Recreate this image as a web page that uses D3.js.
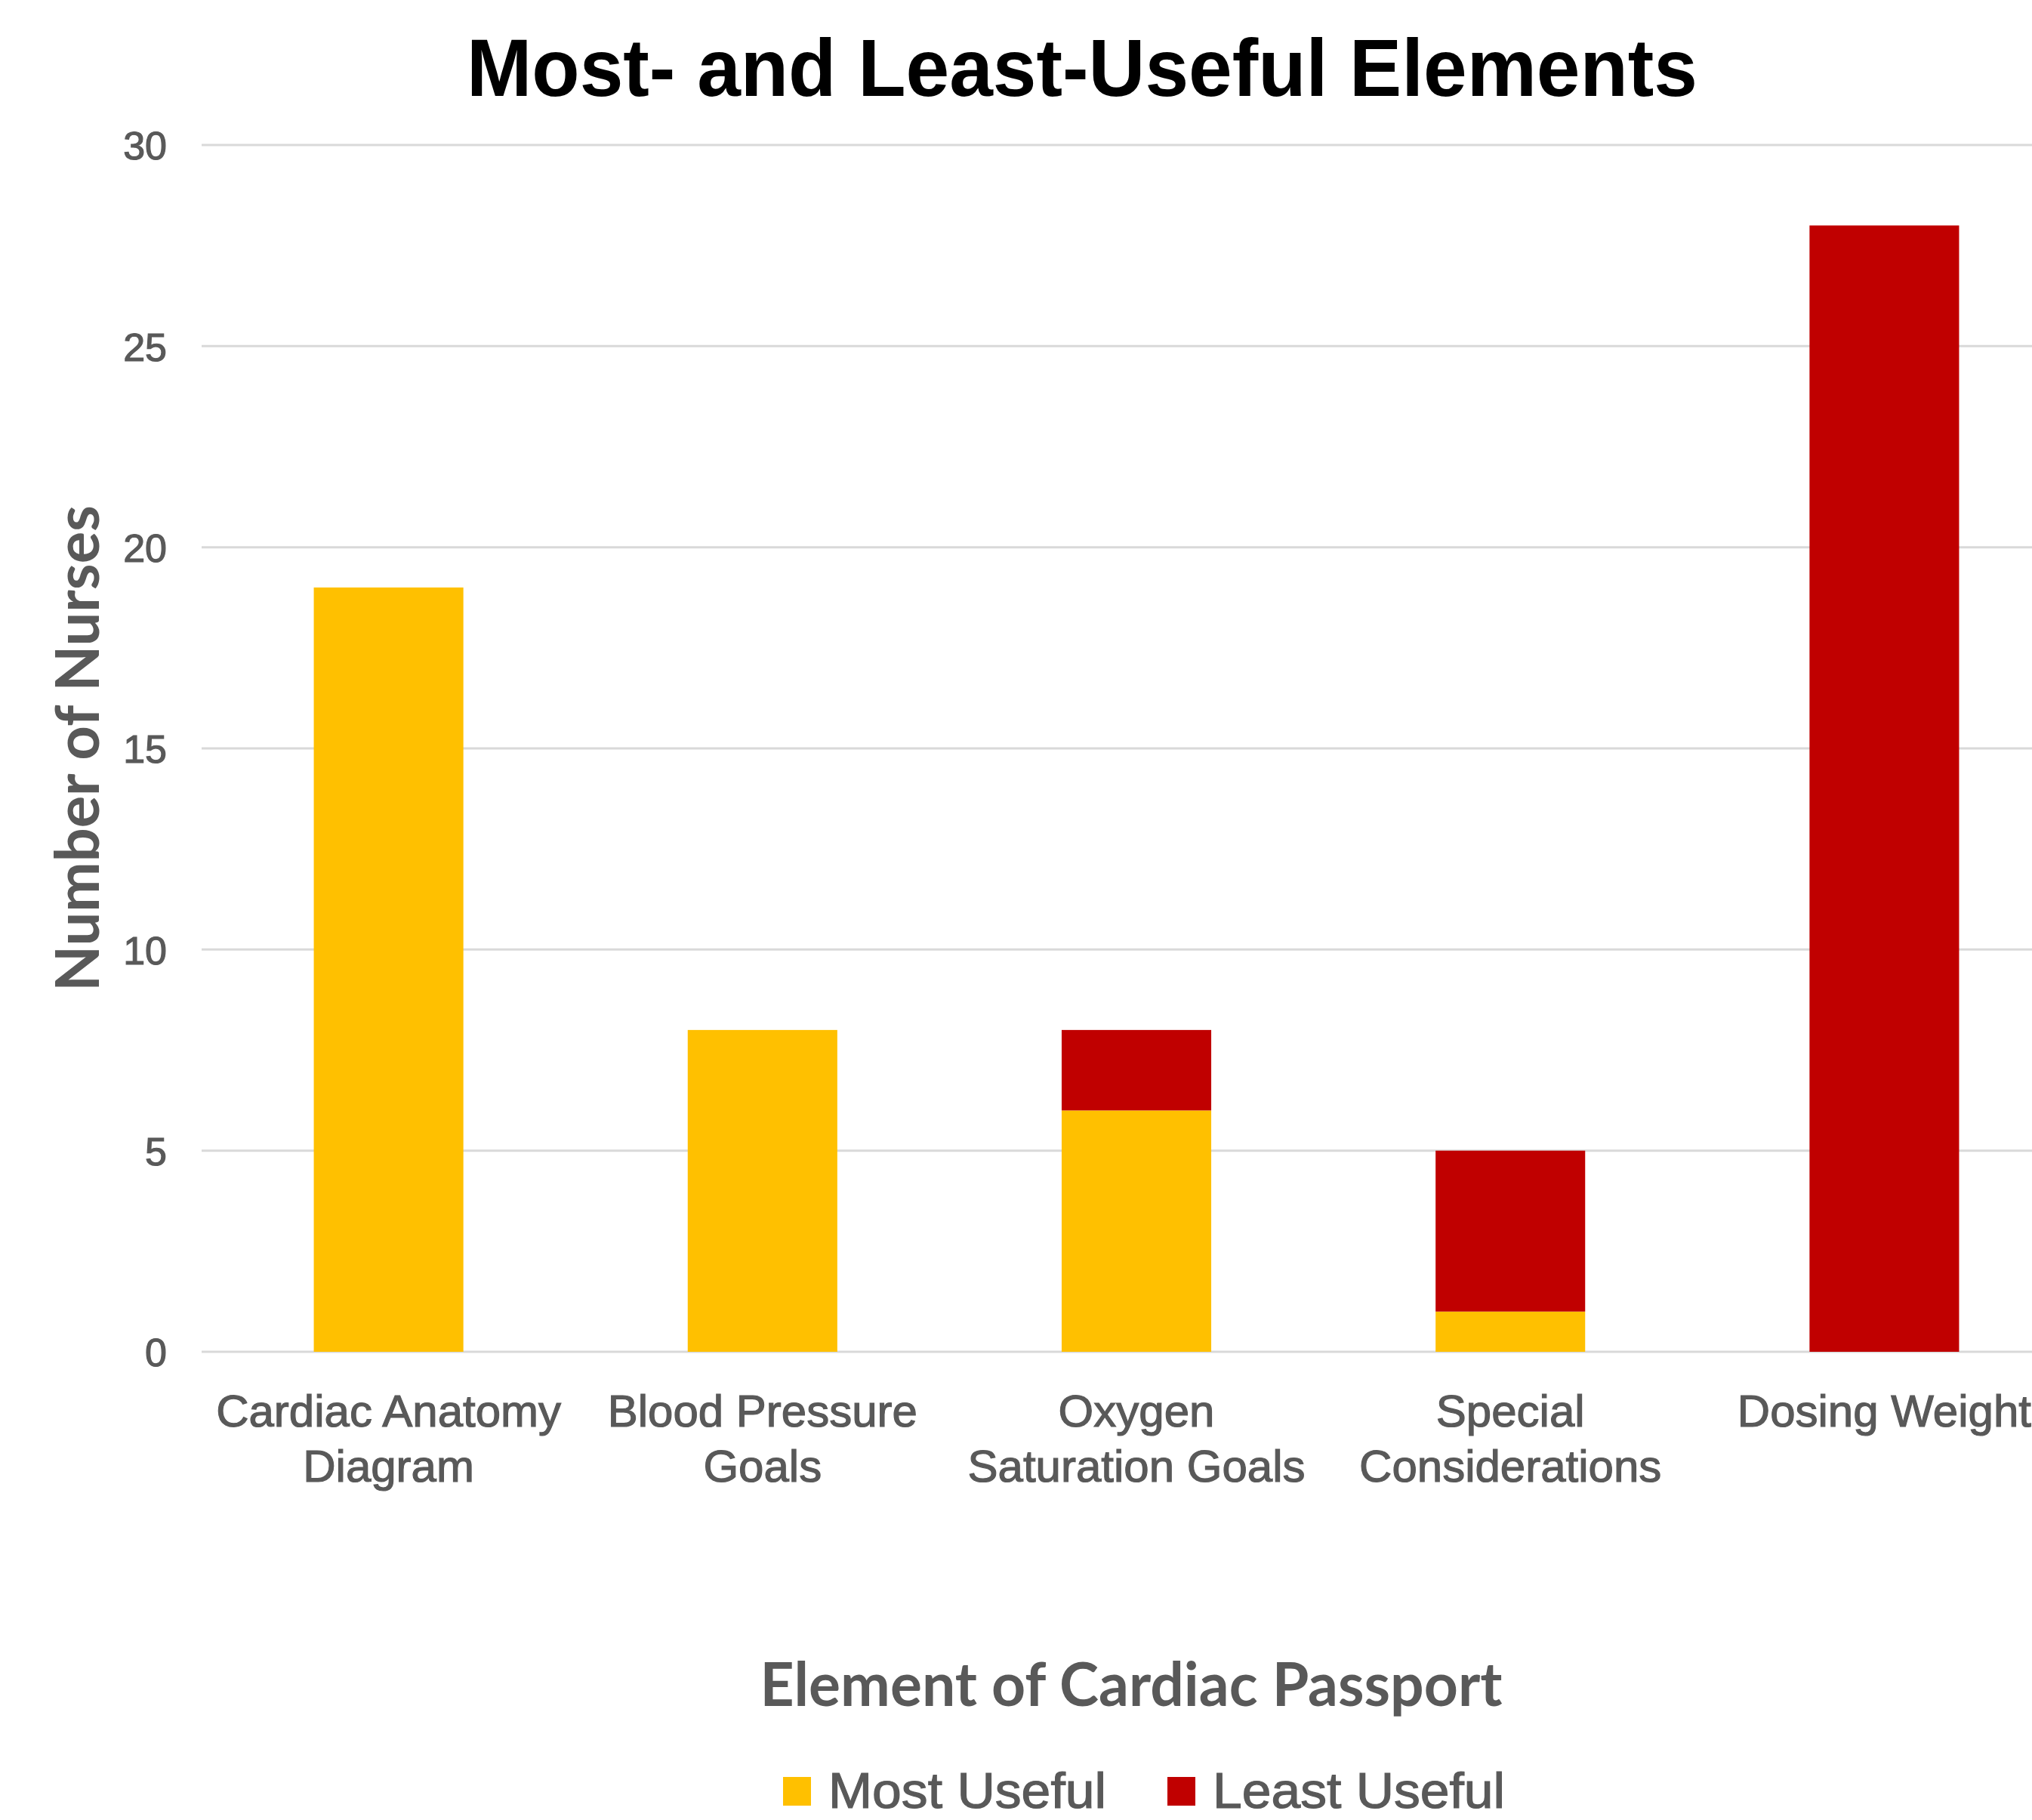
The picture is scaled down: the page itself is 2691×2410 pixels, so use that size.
<!DOCTYPE html>
<html>
<head>
<meta charset="utf-8">
<script src="https://cdn.jsdelivr.net/npm/d3@7"></script>
<style>
  html, body { margin: 0; padding: 0; background: #fff; }
  svg { display: block; }
</style>
</head>
<body>
<svg id="chart" width="2691" height="2410"></svg>
<script>
// ---- Data ----
const categories = ["Cardiac Anatomy Diagram", "Blood Pressure Goals", "Oxygen Saturation Goals", "Special Considerations", "Dosing Weight"];
const categoryLines = [["Cardiac Anatomy", "Diagram"], ["Blood Pressure", "Goals"], ["Oxygen", "Saturation Goals"], ["Special", "Considerations"], ["Dosing Weight"]];
const seriesNames = ["Most Useful", "Least Useful"];
const mostUseful = [19, 8, 6, 1, 0];
const leastUseful = [0, 0, 2, 4, 28];
const yTicks = [0, 5, 10, 15, 20, 25, 30];
const titleText = "Most- and Least-Useful Elements";
const xTitleText = "Element of Cardiac Passport";
const yTitleText = "Number of Nurses";

// ---- Layout / style ----
const colors = { "Most Useful": "#FFC000", "Least Useful": "#C00000" };
const textGray = "#595959";
const gridColor = "#D9D9D9";

const svg = d3.select("#chart");

const x = d3.scaleBand().domain(categories).range([267, 2743]).paddingInner(0.6).paddingOuter(0.3);
const y = d3.scaleLinear().domain([0, 30]).range([1790, 192]);

// gridlines
svg.append("g").selectAll("line").data(yTicks).join("line")
  .attr("x1", 267).attr("x2", 2691)
  .attr("y1", d => y(d)).attr("y2", d => y(d))
  .attr("stroke", gridColor).attr("stroke-width", 3);

// stacked bars
const rows = categories.map((c, i) => ({ cat: c, "Most Useful": mostUseful[i], "Least Useful": leastUseful[i] }));
const stacked = d3.stack().keys(seriesNames)(rows);
svg.append("g").selectAll("g").data(stacked).join("g")
  .attr("fill", d => colors[d.key])
  .selectAll("rect").data(d => d).join("rect")
  .attr("x", d => x(d.data.cat))
  .attr("width", x.bandwidth())
  .attr("y", d => y(d[1]))
  .attr("height", d => y(d[0]) - y(d[1]));

// y axis labels
const yAxis = d3.axisLeft(y).tickValues(yTicks).tickSize(0).tickPadding(0);
const yg = svg.append("g").attr("transform", "translate(221,0)").call(yAxis);
yg.select(".domain").remove();
yg.selectAll("text")
  .attr("font-family", "'Liberation Sans', Arial, sans-serif")
  .attr("font-size", 52).attr("fill", textGray).attr("dy", "0.36em")
  .attr("stroke", textGray).attr("stroke-width", 1.2);

// x category labels
const xg = svg.append("g");
categories.forEach((c, i) => {
  const t = xg.append("text")
    .attr("x", x(c) + x.bandwidth() / 2)
    .attr("y", 1889)
    .attr("text-anchor", "middle")
    .attr("font-family", "'Liberation Sans', Arial, sans-serif")
    .attr("font-size", 60).attr("fill", textGray)
    .attr("stroke", textGray).attr("stroke-width", 1.2);
  categoryLines[i].forEach((ln, j) => {
    t.append("tspan").attr("x", x(c) + x.bandwidth() / 2).attr("dy", j === 0 ? 0 : 73).text(ln);
  });
});

// title
svg.append("text")
  .attr("x", 1433).attr("y", 127)
  .attr("text-anchor", "middle")
  .attr("font-family", "'Liberation Sans', Arial, sans-serif")
  .attr("font-weight", "bold").attr("font-size", 108).attr("fill", "#000")
  .attr("textLength", 1630).attr("lengthAdjust", "spacingAndGlyphs")
  .text(titleText);

// x axis title
svg.append("text")
  .attr("x", 1498).attr("y", 2259)
  .attr("text-anchor", "middle")
  .attr("font-family", "Lato, 'Open Sans', sans-serif")
  .attr("font-weight", "bold").attr("font-size", 80).attr("fill", textGray)
  .attr("textLength", 983).attr("lengthAdjust", "spacingAndGlyphs")
  .text(xTitleText);

// y axis title
svg.append("text")
  .attr("transform", "translate(131,991) rotate(-90)")
  .attr("text-anchor", "middle")
  .attr("font-family", "Lato, 'Open Sans', sans-serif")
  .attr("font-weight", "bold").attr("font-size", 80).attr("fill", textGray)
  .attr("textLength", 644).attr("lengthAdjust", "spacingAndGlyphs")
  .text(yTitleText);

// legend
const legendX = [1037, 1546];
const lg = svg.append("g");
seriesNames.forEach((s, i) => {
  lg.append("rect").attr("x", legendX[i]).attr("y", 2353).attr("width", 37).attr("height", 38).attr("fill", colors[s]);
  lg.append("text").attr("x", legendX[i] + 60).attr("y", 2394)
    .attr("font-family", "'Liberation Sans', Arial, sans-serif")
    .attr("font-size", 66).attr("fill", textGray)
    .attr("stroke", textGray).attr("stroke-width", 1.2)
    .attr("textLength", i === 0 ? 368 : 387).attr("lengthAdjust", "spacingAndGlyphs")
    .text(s);
});
</script>
</body>
</html>
